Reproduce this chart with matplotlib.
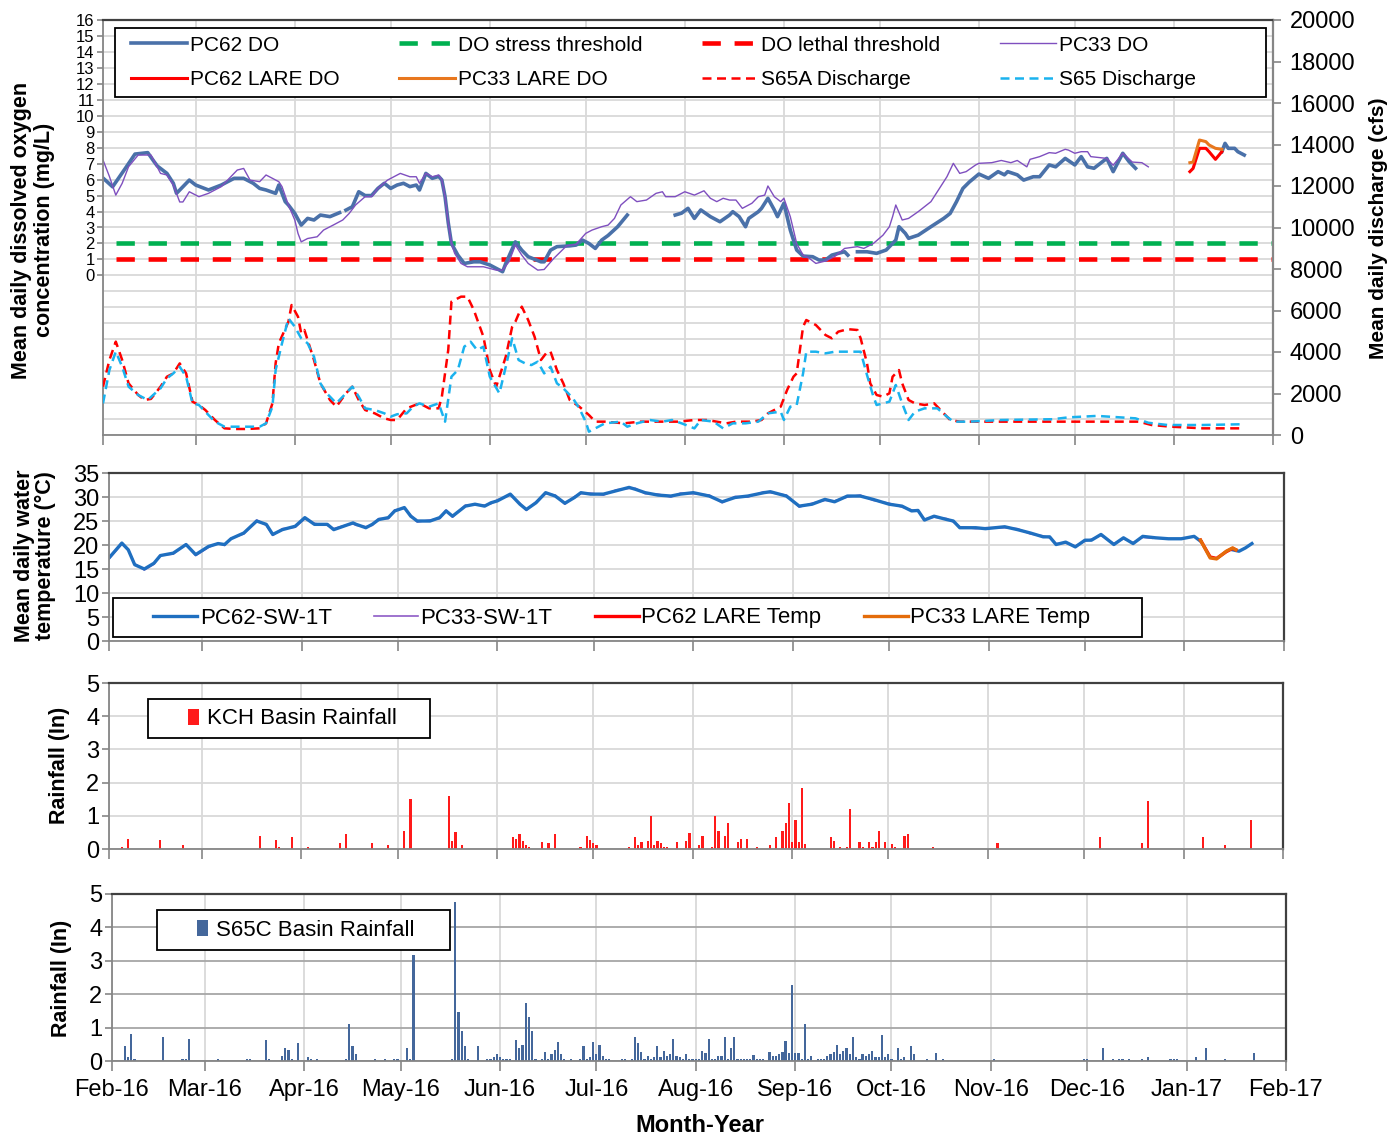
import numpy as np
import pandas as pd
import matplotlib
matplotlib.use("Agg")
import matplotlib.pyplot as plt
import matplotlib.dates as mdates
from matplotlib.patches import Rectangle

plt.rcParams['font.family'] = ['Liberation Sans', 'DejaVu Sans']

START = pd.Timestamp('2016-02-01')
END = pd.Timestamp('2017-02-01')
nan = np.nan

# ---- data: days counted from 1 Feb 2016 ----
# PC62 DO (mg/L), gaps are NaN
pc62_do_days = [0, 3, 7, 10, 14, 16, 17, 20, 22, 23, 25, 27, 29, 33, 37, 41, 44, 47, 49, 51, 54, 55, 57, 58, 60, 62,
                64, 66, 68, 71, 74, 75,
                76, 78, 80, 82, 84, 86, 88, 90, 92, 94, 96, 98, 99, 101, 103, 105, 106, 107, 108, 109, 111, 113, 116,
                118, 121, 123, 125, 126, 129, 131, 133, 137, 138, 140, 142, 146, 148, 150, 152, 154, 156, 158, 161,
                164, 165,
                179, 181, 183, 185, 187, 190, 193, 196, 197, 199, 201, 202, 205, 206, 208, 210, 211, 213, 215, 217,
                219, 222, 224, 226, 228, 230, 232, 233, 234,
                236, 239, 242, 245, 248, 249, 251, 252, 255, 259, 263, 265, 267, 269, 271, 274, 277, 280, 282, 283,
                286, 288, 291, 293, 296, 298, 301, 304, 306, 308, 310, 314, 316, 319, 321, 323, 324,
                350, 351, 352, 354, 355, 357]
pc62_do = [6.1, 5.55, 6.71, 7.6, 7.69, 7.12, 6.85, 6.39, 5.77, 5.14, 5.56, 5.97, 5.66, 5.35, 5.66, 6.08, 6.08, 5.77,
           5.45, 5.35, 5.14, 5.66, 4.62, 4.41, 3.88, 3.15, 3.57, 3.47, 3.78, 3.68, 3.93, nan,
           4.09, 4.3, 5.24, 5.0, 5.0, 5.45, 5.77, 5.45, 5.66, 5.77, 5.56, 5.66, 5.35, 6.39, 6.08, 6.2, 5.98, 4.93,
           3.3, 2.0, 1.27, 0.75, 0.85, 0.85, 0.65, 0.44, 0.23, 0.75, 2.1, 1.58, 1.17, 0.85, 0.85, 1.58, 1.8, 1.85,
           1.9, 2.21, 2.0, 1.69, 2.21, 2.5, 3.05, 3.78, nan,
           3.78, 3.9, 4.2, 3.57, 4.1, 3.68, 3.36, 3.78, 3.99, 3.68, 3.05, 3.57, 3.99, 4.2, 4.83, 4.1, 3.68, 4.52,
           2.84, 1.59, 1.21, 1.17, 0.96, 0.96, 1.27, 1.38, 1.48, 1.27, nan,
           1.48, 1.48, 1.38, 1.59, 2.21, 3.05, 2.63, 2.32, 2.52, 3.05, 3.57, 3.88, 4.62, 5.45, 5.85, 6.35, 6.08, 6.5,
           6.3, 6.5, 6.3, 5.97, 6.18, 6.18, 6.92, 6.8, 7.33, 6.92, 7.44, 6.8, 6.71, 7.33, 6.5, 7.65, 7.12, 6.71, nan,
           7.75, 8.27, 7.96, 7.96, 7.75, 7.54]

pc33_do_days = [0, 2, 4, 6, 8, 11, 15, 18, 20, 22, 24, 25, 27, 30, 33, 37, 41, 42, 44, 46, 49, 51, 53, 55, 56, 58,
                60, 61, 62, 64, 67, 69, 72, 75, 77, 79, 82, 84, 86, 89, 91, 93, 96, 98, 99, 101, 103, 105, 106, 107,
                108, 109, 110, 112, 114, 119, 123, 125, 127, 129, 131, 133, 136, 138, 141, 145, 148, 151, 153, 156,
                158, 160, 162, 165, 167, 170, 173, 175, 176, 179, 182, 185, 188, 190, 192, 194, 196, 198, 200, 203,
                205, 207, 208, 210, 212, 213, 215, 217, 219, 221, 223, 226, 229, 232, 236, 238, 241, 244, 246, 247,
                248, 250, 252, 255, 259, 262, 264, 266, 268, 270, 273, 274, 278, 281, 284, 286, 289, 290, 293, 296,
                298, 301, 302, 304, 306, 308, 309, 314, 316, 319, 322, 325, 327]
pc33_do = [7.23, 6.2, 5.03, 5.77, 6.81, 7.54, 7.54, 6.39, 6.29, 5.66, 4.6, 4.6, 5.24, 4.93, 5.14, 5.56, 6.39, 6.6,
           6.7, 5.97, 5.87, 6.29, 6.08, 5.87, 5.56, 4.41, 3.47, 2.63, 2.1, 2.31, 2.42, 2.84, 3.15, 3.47, 3.88, 4.41,
           4.93, 4.93, 5.45, 5.97, 6.18, 6.39, 6.18, 6.18, 5.77, 6.39, 6.18, 6.29, 5.98, 4.93, 3.3, 2.0, 1.38, 0.75,
           0.54, 0.54, 0.33, 0.33, 0.85, 1.9, 1.27, 0.75, 0.33, 0.37, 1.06, 1.85, 1.95, 2.63, 2.84, 3.05, 3.15, 3.57,
           4.41, 4.93, 4.62, 4.72, 5.14, 5.24, 4.93, 4.93, 5.24, 5.03, 5.3, 4.83, 4.62, 4.83, 4.72, 4.72, 4.2, 4.52,
           4.93, 5.03, 5.6, 4.93, 4.62, 4.83, 3.68, 2.0, 1.27, 1.06, 0.75, 0.9, 1.2, 1.69, 1.8, 1.69, 2.0, 2.52,
           3.05, 3.68, 4.41, 3.47, 3.57, 3.99, 4.62, 5.56, 6.18, 7.02, 6.39, 6.5, 6.92, 7.02, 7.06, 7.2, 7.06, 7.2,
           6.8, 7.27, 7.44, 7.69, 7.65, 7.9, 7.85, 7.65, 7.75, 7.75, 7.44, 7.33, 6.9, 7.65, 7.1, 7.06, 6.8]

lare_do_days = [340, 341, 343, 345, 346, 348, 350]
pc62_lare_do = [6.5, 6.7, 7.96, 7.96, 7.75, 7.27, 7.75]
pc33_lare_do = [7.06, 7.1, 8.48, 8.38, 8.17, 7.96, 7.9]

stress_threshold = 2.0
lethal_threshold = 1.0
threshold_days = [4, 366]

# discharge (cfs)
s65a_days = [0, 2, 4, 6, 8, 11, 13, 15, 18, 20, 22, 24, 26, 28, 30, 32, 35, 38, 41, 45, 49, 51, 53, 54, 55, 58, 59,
             61, 62, 63, 64, 66, 68, 71, 73, 76, 78, 80, 82, 85, 88, 90, 92, 95, 99, 102, 105, 106, 108, 109, 112,
             114, 116, 119, 121, 123, 126, 128, 129, 131, 133, 135, 137, 139, 140, 142, 144, 146, 149, 152, 154,
             157, 163, 168, 175, 180, 185, 189, 195, 198, 203, 206, 208, 212, 214, 216, 217, 219, 220, 223, 226,
             228, 230, 233, 236, 237, 239, 240, 242, 244, 246, 247, 249, 250, 252, 254, 257, 260, 263, 265, 268,
             280, 300, 324, 328, 334, 344, 357]
s65a_q = [2330, 3614, 4500, 3614, 2490, 1928, 1687, 1740, 2330, 2810, 2970, 3450, 2970, 1606, 1445, 1205, 723, 321,
          290, 290, 321, 562, 1525, 3455, 4420, 5460, 6265, 5700, 4900, 5060, 4578, 3614, 2490, 1687, 1365, 2008,
          2330, 1687, 1205, 1044, 803, 723, 723, 1285, 1525, 1285, 1285, 1848, 4096, 6425, 6667, 6667, 6024, 4737,
          3130, 2330, 3775, 5220, 5460, 6185, 5542, 4737, 3614, 4015, 4015, 3130, 2490, 1687, 1365, 964, 643, 643,
          562, 643, 643, 643, 723, 723, 562, 643, 643, 723, 1044, 1365, 2169, 2810, 2970, 5220, 5542, 5300, 4819,
          4660, 4980, 5100, 5060, 4660, 3455, 2490, 1928, 1848, 2008, 2810, 3130, 2490, 1687, 1525, 1445, 1525,
          1044, 723, 643, 643, 643, 643, 482, 402, 321, 321]

s65_days = [0, 2, 4, 6, 8, 11, 14, 18, 20, 22, 24, 26, 28, 30, 35, 38, 45, 49, 51, 53, 54, 56, 58, 60, 62, 64, 66,
            68, 70, 73, 74, 77, 78, 80, 82, 85, 88, 90, 92, 95, 97, 99, 102, 105, 107, 109, 111, 113, 115, 117, 119,
            121, 124, 126, 128, 130, 132, 134, 136, 138, 140, 142, 144, 147, 149, 151, 152, 154, 157, 162, 164, 167,
            171, 175, 178, 181, 185, 187, 191, 194, 197, 201, 205, 208, 212, 213, 215, 217, 219, 220, 223, 226, 229,
            237, 239, 241, 242, 246, 248, 250, 252, 254, 257, 261, 264, 266, 271, 281, 297, 302, 311, 323, 327, 333,
            344, 357]
s65_q = [1525, 3130, 4015, 3290, 2330, 1928, 1687, 2250, 2730, 2970, 3290, 2810, 1525, 1445, 643, 400, 400, 400, 562,
         1365, 3130, 4420, 5622, 5220, 4660, 4420, 3775, 2490, 2008, 1525, 1687, 2170, 2330, 1848, 1285, 1205, 1044,
         884, 1000, 1044, 1365, 1525, 1365, 1525, 643, 2810, 3130, 4255, 4497, 4096, 4255, 2810, 2008, 3290, 4660,
         3614, 3455, 3370, 3535, 2970, 3290, 2490, 2250, 1768, 1285, 643, 160, 320, 562, 643, 400, 562, 723, 643,
         723, 562, 320, 723, 643, 320, 562, 562, 643, 1044, 1125, 723, 1365, 1445, 2970, 4015, 4015, 3935, 4015,
         4015, 2890, 1848, 1445, 1606, 2410, 1525, 723, 1125, 1285, 1285, 884, 643, 643, 723, 760, 850, 920, 803,
         590, 482, 482, 520]

# water temperature (deg C)
pc62_t_days = [0, 4, 6, 8, 11, 14, 16, 20, 24, 27, 31, 34, 36, 38, 42, 46, 49, 51, 54, 58, 61, 64, 68, 70, 73, 76,
               77, 80, 82, 84, 87, 89, 92, 94, 96, 100, 103, 105, 107, 111, 114, 117, 119, 121, 125, 128, 130, 133,
               136, 139, 142, 145, 147, 150, 154, 158, 162, 164, 167, 171, 175, 178, 182, 187, 191, 195, 199, 204,
               206, 211, 215, 219, 223, 226, 230, 234, 238, 243, 247, 250, 252, 254, 257, 261, 263, 265, 270, 273,
               279, 283, 287, 291, 293, 295, 298, 301, 304, 306, 309, 313, 316, 319, 322, 326, 330, 334, 338, 340,
               341, 350, 352, 354, 356]
pc62_t = [17.3, 20.4, 19.0, 15.9, 15.0, 16.2, 17.8, 18.3, 20.1, 18.0, 19.7, 20.3, 20.1, 21.3, 22.5, 25.0, 24.3,
          22.2, 23.2, 23.9, 25.7, 24.3, 24.3, 23.2, 23.9, 24.6, 24.3, 23.6, 24.3, 25.3, 25.7, 27.1, 27.8, 26.0, 25.0,
          25.0, 25.7, 27.1, 26.0, 28.1, 28.5, 28.1, 28.8, 29.2, 30.6, 28.5, 27.4, 28.8, 30.9, 30.2, 28.7, 29.9, 30.9,
          30.6, 30.6, 31.3, 32.0, 31.6, 30.9, 30.4, 30.2, 30.6, 30.9, 30.2, 29.0, 29.9, 30.2, 30.9, 31.1, 30.2, 28.1,
          28.5, 29.5, 29.0, 30.2, 30.2, 29.5, 28.5, 28.1, 27.1, 27.2, 25.2, 26.0, 25.3, 25.0, 23.6, 23.6, 23.4, 23.8,
          23.2, 22.5, 21.7, 21.7, 20.1, 20.6, 19.6, 21.0, 21.0, 22.2, 20.1, 21.5, 20.3, 21.8, 21.5, 21.3, 21.3,
          21.8, 20.8, nan, 19.0, 18.7, 19.4, 20.3]

pc33_t_days = [0, 4, 6, 8, 11, 14, 16, 20, 24, 27, 31, 34, 36, 38, 42, 46, 49, 51, 54, 58, 61, 64, 68, 70, 73, 76,
               77, 80, 82, 84, 87, 89, 92, 94, 96, 100, 103, 105, 107, 111, 114, 117, 119, 121, 125, 128, 130, 133,
               136, 139, 142, 145, 147, 150, 154, 158, 162, 164, 167, 171, 175, 178, 182, 187, 191, 195, 199, 204,
               206, 211, 215, 219, 223, 226, 230, 234, 238, 243, 247, 250, 252, 254, 257, 261, 263, 265, 270, 273,
               279, 283, 287, 291, 293, 295, 298, 301, 304, 306, 309, 313, 316, 319, 322, 325]
pc33_t = [17.1, 20.2, 19.1, 16.1, 14.8, 16.0, 17.9, 18.1, 20.2, 17.8, 19.5, 20.4, 19.9, 21.4, 22.3, 25.2, 24.1,
          22.0, 23.4, 23.7, 25.5, 24.5, 24.1, 23.4, 24.0, 24.4, 24.1, 23.8, 24.1, 25.5, 25.5, 27.3, 27.6, 26.2, 24.8,
          25.2, 25.5, 27.3, 25.8, 28.3, 28.3, 28.3, 28.6, 29.4, 30.4, 28.7, 27.2, 29.0, 30.7, 30.4, 28.5, 30.1, 30.7,
          30.8, 30.4, 31.5, 31.8, 31.8, 30.7, 30.6, 30.0, 30.8, 30.7, 30.4, 28.8, 30.1, 30.0, 31.1, 30.9, 30.4, 27.9,
          28.7, 29.3, 29.2, 30.0, 30.4, 29.3, 28.7, 27.9, 27.3, 27.0, 25.4, 25.8, 25.5, 24.8, 23.8, 23.4, 23.6, 23.6,
          23.4, 22.3, 21.9, 21.5, 20.3, 20.4, 19.8, 20.8, 21.2, 22.0, 20.3, 21.3, 20.5, 21.6, 21.4]

lare_t_days = [340, 343, 345, 348, 350, 351]
pc62_lare_t = [21.0, 17.5, 17.2, 18.6, 19.3, 19.0]
pc33_lare_t = [21.0, 17.3, 17.1, 18.7, 19.4, 19.0]

# rainfall (in)
kch_days = [4, 6, 16, 23, 47, 52, 53, 57, 62, 72, 74, 82, 87, 92, 94, 106, 107, 108, 110, 126, 127, 128, 129, 130,
            131, 135, 137, 139, 147, 149, 150, 151, 152, 162, 164, 165, 166, 168, 169, 170, 171, 172, 173, 174, 177,
            180, 181, 184, 185, 188, 189, 190, 192, 193, 196, 197, 199, 202, 206, 208, 210, 211, 212, 213, 214, 215,
            216, 217, 225, 226, 228, 230, 231, 234, 235, 237, 238, 239, 240, 242, 244, 245, 248, 249, 257, 277, 309,
            322, 324, 341, 348, 356]
kch_rain = [0.07, 0.3, 0.27, 0.12, 0.4, 0.27, 0.07, 0.36, 0.07, 0.17, 0.45, 0.17, 0.12, 0.54, 1.5, 1.6, 0.25, 0.5,
            0.12, 0.35, 0.29, 0.45, 0.25, 0.12, 0.07, 0.2, 0.17, 0.45, 0.07, 0.4, 0.27, 0.17, 0.12, 0.07, 0.35, 0.12,
            0.2, 0.25, 0.98, 0.12, 0.25, 0.17, 0.07, 0.07, 0.2, 0.25, 0.49, 0.12, 0.4, 0.07, 0.98, 0.54, 0.4, 0.77,
            0.2, 0.3, 0.3, 0.07, 0.12, 0.35, 0.54, 0.77, 1.4, 0.2, 0.88, 0.2, 1.83, 0.15, 0.35, 0.25, 0.07, 0.07,
            1.21, 0.2, 0.07, 0.2, 0.07, 0.2, 0.54, 0.2, 0.15, 0.07, 0.4, 0.45, 0.07, 0.17, 0.35, 0.17, 1.45, 0.35,
            0.12, 0.88]

s65c_days = [4, 5, 6, 7, 16, 22, 23, 24, 33, 42, 43, 48, 49, 53, 54, 55, 56, 58, 61, 62, 64, 73, 74, 75, 76, 82, 85,
             88, 89, 92, 93, 94, 106, 107, 108, 109, 110, 111, 114, 117, 118, 119, 120, 121, 122, 123, 124, 126, 127,
             128, 129, 130, 131, 132, 134, 135, 136, 137, 138, 139, 140, 141, 143, 146, 147, 148, 149, 150, 151, 152,
             153, 154, 155, 159, 160, 162, 163, 164, 165, 166, 167, 168, 169, 170, 171, 172, 173, 174, 175, 176, 177,
             178, 179, 180, 181, 182, 183, 184, 185, 186, 187, 188, 189, 190, 191, 192, 193, 194, 195, 196, 197, 198,
             199, 200, 201, 202, 203, 205, 206, 207, 208, 209, 210, 211, 212, 213, 214, 215, 216, 217, 218, 220,
             221, 222, 223, 224, 225, 226, 227, 228, 229, 230, 231, 232, 233, 234, 235, 236, 237, 238, 239, 240, 241,
             242, 243, 245, 246, 247, 249, 250, 254, 257, 259, 275, 303, 304, 309, 312, 314, 315, 317, 321, 323, 330,
             331, 332, 338, 341, 347, 356]
s65c_rain = [0.44, 0.11, 0.82, 0.06, 0.72, 0.06, 0.06, 0.67, 0.06, 0.06, 0.06, 0.62, 0.06, 0.16, 0.39, 0.34, 0.06,
             0.54, 0.11, 0.06, 0.06, 0.06, 1.1, 0.44, 0.21, 0.06, 0.06, 0.06, 0.06, 0.39, 0.06, 3.16, 0.06, 4.77,
             1.46, 0.91, 0.44, 0.06, 0.44, 0.06, 0.06, 0.11, 0.21, 0.11, 0.06, 0.06, 0.06, 0.62, 0.39, 0.49, 1.75,
             1.33, 0.91, 0.06, 0.06, 0.26, 0.06, 0.21, 0.34, 0.57, 0.21, 0.06, 0.06, 0.06, 0.44, 0.06, 0.11, 0.57,
             0.21, 0.49, 0.16, 0.06, 0.06, 0.06, 0.06, 0.06, 0.72, 0.54, 0.26, 0.06, 0.16, 0.06, 0.11, 0.44, 0.11,
             0.29, 0.16, 0.21, 0.67, 0.16, 0.11, 0.06, 0.21, 0.06, 0.06, 0.06, 0.06, 0.29, 0.24, 0.67, 0.06, 0.06,
             0.16, 0.16, 0.72, 0.06, 0.39, 0.72, 0.06, 0.06, 0.06, 0.06, 0.06, 0.19, 0.06, 0.06, 0.06, 0.26, 0.16,
             0.16, 0.21, 0.26, 0.59, 0.24, 2.27, 0.24, 0.24, 0.06, 1.1, 0.06, 0.16, 0.06, 0.06, 0.06, 0.16, 0.21,
             0.26, 0.49, 0.21, 0.29, 0.39, 0.21, 0.72, 0.11, 0.06, 0.21, 0.16, 0.21, 0.29, 0.11, 0.11, 0.77, 0.11,
             0.21, 0.06, 0.39, 0.06, 0.11, 0.44, 0.21, 0.06, 0.24, 0.06, 0.06, 0.06, 0.06, 0.39, 0.06, 0.06, 0.06,
             0.06, 0.06, 0.11, 0.06, 0.06, 0.06, 0.11, 0.39, 0.06, 0.24]


def to_dates(days):
    return START + pd.to_timedelta(days, unit='D')


W, H = 1393, 1140
fig = plt.figure(figsize=(W / 100, H / 100), dpi=100)


def fig_box(x0, y0, x1, y1):
    # pixel box (top-left origin) -> figure fraction rect
    return [x0 / W, 1 - y1 / H, (x1 - x0) / W, (y1 - y0) / H]


ax1 = fig.add_axes(fig_box(103, 20, 1273, 435))
ax2 = fig.add_axes(fig_box(109, 473, 1284, 641))
ax3 = fig.add_axes(fig_box(109, 683, 1283, 849))
ax4 = fig.add_axes(fig_box(112, 894, 1286, 1061))

GRID = '#d9d9d9'
AXIS = '#868686'
FRAME = '#404040'
TICK_FS = 17


def base_style(ax, labels=False):
    ax.set_xlim(START, END)
    ax.xaxis.set_major_locator(mdates.MonthLocator())
    ax.xaxis.set_major_formatter(mdates.DateFormatter('%b-%y'))
    ax.grid(axis='x', color=GRID, lw=1.3)
    ax.set_axisbelow(True)
    ax.tick_params(axis='x', direction='out', length=7, width=1.2, color=AXIS,
                   labelbottom=labels, labelsize=TICK_FS, pad=6)
    ax.tick_params(axis='y', direction='out', length=5, width=1.2, color=AXIS,
                   labelsize=TICK_FS, pad=2)
    for s in ['left', 'bottom']:
        ax.spines[s].set_color(AXIS)
        ax.spines[s].set_linewidth(1.3)
    for s in ['top', 'right']:
        ax.spines[s].set_color(FRAME)
        ax.spines[s].set_linewidth(1.6)


# ---- panel 1: DO and discharge ----
base_style(ax1)
ax1.set_ylim(-10, 16)
ax1.set_yticks(range(0, 17))
ax1.set_yticks(range(-10, 0), minor=True)
ax1.tick_params(axis='y', which='major', labelsize=12, length=4, pad=2)
ax1.tick_params(axis='y', which='minor', length=0)
ax1.grid(axis='y', which='both', color=GRID, lw=1.3)
ax1.spines['right'].set_color(AXIS)

h_stress, = ax1.plot(to_dates(threshold_days), [stress_threshold] * 2, color='#00B050', lw=3.3,
                     dashes=(4, 3), label='DO stress threshold')
h_lethal, = ax1.plot(to_dates(threshold_days), [lethal_threshold] * 2, color='#FF0000', lw=3.3,
                     dashes=(4, 3), label='DO lethal threshold')
h_pc62, = ax1.plot(to_dates(pc62_do_days), pc62_do, color='#4A71A9', lw=2.6, label='PC62 DO')
h_pc33, = ax1.plot(to_dates(pc33_do_days), pc33_do, color='#7F4FBF', lw=1.0, label='PC33 DO')
h_pc62l, = ax1.plot(to_dates(lare_do_days), pc62_lare_do, color='#FF0000', lw=2.2, label='PC62 LARE DO')
h_pc33l, = ax1.plot(to_dates(lare_do_days), pc33_lare_do, color='#E8771E', lw=2.2, label='PC33 LARE DO')

ax1r = ax1.twinx()
ax1r.set_xlim(START, END)
ax1r.set_ylim(0, 20000)
ax1r.set_yticks(range(0, 20001, 2000))
ax1r.tick_params(axis='y', direction='out', length=6, width=1.2, color=AXIS, labelsize=TICK_FS, pad=6)
for s in ax1r.spines.values():
    s.set_visible(False)
h_s65a, = ax1r.plot(to_dates(s65a_days), s65a_q, color='#FF0000', lw=1.8, dashes=(3.6, 2.2),
                    label='S65A Discharge')
h_s65, = ax1r.plot(to_dates(s65_days), s65_q, color='#1AB2EE', lw=1.8, dashes=(3.6, 2.2),
                   label='S65 Discharge')

# ---- panel 2: temperature ----
base_style(ax2)
ax2.set_ylim(0, 35)
ax2.set_yticks(range(0, 36, 5))
ax2.grid(axis='y', color=GRID, lw=1.3)
t_pc33, = ax2.plot(to_dates(pc33_t_days), pc33_t, color='#8E5BC6', lw=1.2, label='PC33-SW-1T')
t_pc62, = ax2.plot(to_dates(pc62_t_days), pc62_t, color='#1F6FC0', lw=2.4, label='PC62-SW-1T')
t_pc62l, = ax2.plot(to_dates(lare_t_days), pc62_lare_t, color='#FF0000', lw=2.4, label='PC62 LARE Temp')
t_pc33l, = ax2.plot(to_dates(lare_t_days), pc33_lare_t, color='#E46C0A', lw=2.4, label='PC33 LARE Temp')

# ---- panel 3: KCH rainfall ----
base_style(ax3)
ax3.set_ylim(0, 5)
ax3.set_yticks(range(0, 6))
ax3.grid(axis='y', color=GRID, lw=1.3)
b_kch = ax3.bar(to_dates(kch_days), kch_rain, width=0.7, color='#FF1A1A', label='KCH Basin Rainfall')

# ---- panel 4: S65C rainfall ----
base_style(ax4, labels=True)
ax4.set_ylim(0, 5)
ax4.set_yticks(range(0, 6))
ax4.grid(axis='y', color='#a6a6a6', lw=1.3)
b_s65c = ax4.bar(to_dates(s65c_days), s65c_rain, width=0.7, color='#44679B', label='S65C Basin Rainfall')


# ---- legends with white boxes ----
def legend_box(x0, y0, x1, y1):
    r = Rectangle((x0 / W, 1 - y1 / H), (x1 - x0) / W, (y1 - y0) / H, transform=fig.transFigure,
                  facecolor='white', edgecolor='black', lw=1.3, zorder=3)
    fig.add_artist(r)


legend_box(115, 28, 1266, 97)
top_handles = [h_pc62, h_pc62l, h_stress, h_pc33l, h_lethal, h_s65a, h_pc33, h_s65]
lg = fig.legend(top_handles, [h.get_label() for h in top_handles], ncol=4, mode='expand',
                loc='center', bbox_to_anchor=(131 / W, 1 - 97 / H, (1196 - 131) / W, 69 / H),
                bbox_transform=fig.transFigure, frameon=False, fontsize=15, handlelength=2.7,
                handletextpad=0.15, labelspacing=0.75, borderpad=0, borderaxespad=0)
lg.set_zorder(4)

legend_box(113, 598, 1142, 637)
t_handles = [t_pc62, t_pc33, t_pc62l, t_pc33l]
lg = fig.legend(t_handles, [h.get_label() for h in t_handles], ncol=4, loc='center left',
                bbox_to_anchor=(153 / W, 1 - 618 / H), bbox_transform=fig.transFigure, frameon=False,
                fontsize=16, handlelength=2.0, handletextpad=0.1, columnspacing=1.9, borderpad=0,
                borderaxespad=0)
lg.set_zorder(4)

legend_box(148, 699, 430, 738)
lg = fig.legend([b_kch], ['KCH Basin Rainfall'], loc='center', bbox_to_anchor=(292 / W, 1 - 719 / H),
                bbox_transform=fig.transFigure, frameon=False, fontsize=16, handlelength=0.5,
                handleheight=0.75, handletextpad=0.35, borderpad=0, borderaxespad=0)
lg.set_zorder(4)

legend_box(157, 910, 450, 950)
lg = fig.legend([b_s65c], ['S65C Basin Rainfall'], loc='center', bbox_to_anchor=(306 / W, 1 - 930 / H),
                bbox_transform=fig.transFigure, frameon=False, fontsize=16, handlelength=0.5,
                handleheight=0.75, handletextpad=0.35, borderpad=0, borderaxespad=0)
lg.set_zorder(4)

# ---- axis titles ----
fig.text(33 / W, 1 - 230 / H, 'Mean daily dissolved oxygen\nconcentration (mg/L)', rotation=90,
         ha='center', va='center', fontsize=15.5, fontweight='bold', linespacing=1.1)
fig.text(1378 / W, 1 - 228 / H, 'Mean daily discharge (cfs)', rotation=90, ha='center', va='center',
         fontsize=15, fontweight='bold')
fig.text(35 / W, 1 - 556 / H, 'Mean daily water\ntemperature (°C)', rotation=90, ha='center', va='center',
         fontsize=15.5, fontweight='bold', linespacing=1.0)
fig.text(60 / W, 1 - 765 / H, 'Rainfall (In)', rotation=90, ha='center', va='center', fontsize=15.5,
         fontweight='bold')
fig.text(62 / W, 1 - 978 / H, 'Rainfall (In)', rotation=90, ha='center', va='center', fontsize=15.5,
         fontweight='bold')
fig.text(700 / W, 1 - 1125 / H, 'Month-Year', ha='center', va='center', fontsize=17, fontweight='bold')

fig.savefig('out.png', dpi=100)
